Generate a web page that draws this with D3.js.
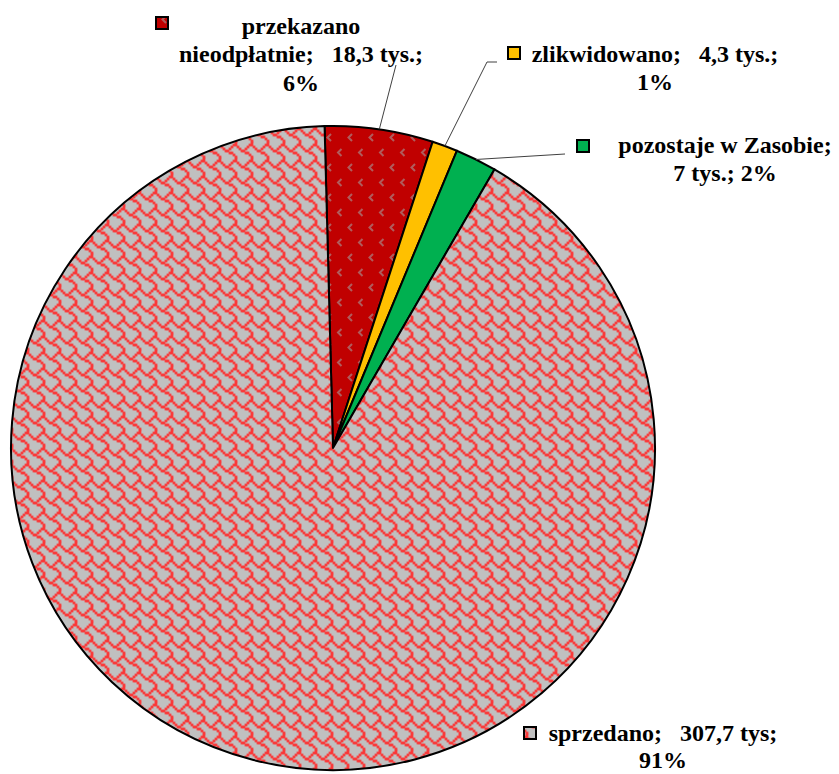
<!DOCTYPE html>
<html>
<head>
<meta charset="utf-8">
<script src="https://cdn.jsdelivr.net/npm/d3@7"></script>
<style>
  html, body { margin: 0; padding: 0; background: #fff; }
  svg { display: block; }
  .lbl { font-family: "Liberation Serif", "Times New Roman", serif; font-weight: bold; font-size: 24px; fill: #000; }
</style>
</head>
<body>
<div id="chart"></div>
<script>
// data
const categories = ['przekazano nieodpłatnie', 'zlikwidowano', 'pozostaje w Zasobie', 'sprzedano'];
const values = [18.3, 4.3, 7, 307.7];
const labelLines = [
    ['przekazano', 'nieodpłatnie;   18,3 tys.;', '6%'],
    ['zlikwidowano;   4,3 tys.;', '1%'],
    ['pozostaje w Zasobie;', '7 tys.; 2%'],
    ['sprzedano;   307,7 tys;', '91%']
];
const fills = ['url(#divot)', '#ffc000', '#00b050', 'url(#shingle)'];

// layout of labels (center x, first baseline, line step, key box, leader end points)
const labelLayout = [
    {cx: 301, y: 34, step: 28.3, kx: 156, ky: 17, leader: [[396, 65]]},
    {cx: 655, y: 62, step: 28.3, kx: 508, ky: 47, leader: [[487, 62], [497, 62]]},
    {cx: 725, y: 153, step: 28.3, kx: 577, ky: 140, leader: [[565, 154]]},
    {cx: 663, y: 741, step: 26.5, kx: 524, ky: 727, leader: null}
];

const width = 839, height = 774;
const cx = 333, cy = 448, r = 322;
const startAngle = -1.5 * Math.PI / 180;

const svg = d3.select('#chart').append('svg')
    .attr('width', width)
    .attr('height', height);

// patterns
const defs = svg.append('defs');

// shingle pattern (8x8 bitmap scaled 2x, softened)
const shingleBits = [0x03, 0x84, 0x48, 0x30, 0x0C, 0x02, 0x01, 0x01];
const shingle = defs.append('pattern')
    .attr('id', 'shingle')
    .attr('patternUnits', 'userSpaceOnUse')
    .attr('width', 16).attr('height', 16);
shingle.append('rect').attr('width', 16).attr('height', 16).attr('fill', '#c0c0c0');
const sh = shingle.append('g').attr('fill', '#ff2a2a').attr('fill-opacity', 0.85);
shingleBits.forEach((b, row) => {
    for (let col = 0; col < 8; col++) {
        if (b & (0x80 >> col)) {
            // wrapped copies so enlarged cells tile seamlessly
            [[0, 0], [16, 0], [-16, 0], [0, 16], [0, -16]].forEach(o => {
                sh.append('rect')
                    .attr('x', col * 2 - 0.4 + o[0]).attr('y', row * 2 - 0.4 + o[1])
                    .attr('width', 2.8).attr('height', 2.8);
            });
        }
    }
});

// chevron pattern for the red slice
const divot = defs.append('pattern')
    .attr('id', 'divot')
    .attr('patternUnits', 'userSpaceOnUse')
    .attr('width', 21).attr('height', 30);
divot.append('rect').attr('width', 21).attr('height', 30).attr('fill', '#c00000');
[[5, 1], [15.5, 16]].forEach(p => {
    divot.append('path')
        .attr('d', `M${p[0] + 3.5},${p[1]} L${p[0]},${p[1] + 3.5} L${p[0] + 3.5},${p[1] + 7}`)
        .attr('fill', 'none')
        .attr('stroke', '#b05c5c')
        .attr('stroke-width', 2);
});

// pie
const pie = d3.pie()
    .sort(null)
    .startAngle(startAngle)
    .endAngle(startAngle + 2 * Math.PI)
    .value(d => d);

const arcs = pie(values);
const arc = d3.arc().innerRadius(0).outerRadius(r);

const plot = svg.append('g')
    .attr('transform', `translate(${cx},${cy})`);

plot.selectAll('.slice')
    .data(arcs)
    .enter()
    .append('path')
    .classed('slice', true)
    .attr('d', arc)
    .attr('fill', (d, i) => fills[i])
    .attr('stroke', '#000')
    .attr('stroke-width', 2)
    .attr('stroke-linejoin', 'round');

// leader lines
arcs.forEach((d, i) => {
    const lay = labelLayout[i];
    if (!lay.leader) return;
    const mid = (d.startAngle + d.endAngle) / 2;
    const start = [cx + r * Math.sin(mid), cy - r * Math.cos(mid)];
    svg.append('polyline')
        .attr('points', [start].concat(lay.leader).map(p => p.join(',')).join(' '))
        .attr('fill', 'none')
        .attr('stroke', '#404040')
        .attr('stroke-width', 1);
});

// labels
labelLines.forEach((lines, i) => {
    const lay = labelLayout[i];
    svg.append('rect')
        .attr('x', lay.kx).attr('y', lay.ky)
        .attr('width', 12).attr('height', 12)
        .attr('fill', fills[i])
        .attr('stroke', '#000')
        .attr('stroke-width', 2);
    const t = svg.append('text')
        .classed('lbl', true)
        .attr('text-anchor', 'middle');
    lines.forEach((s, j) => {
        t.append('tspan')
            .attr('x', lay.cx)
            .attr('y', lay.y + j * lay.step)
            .attr('xml:space', 'preserve')
            .style('white-space', 'pre')
            .text(s);
    });
});
</script>
</body>
</html>
